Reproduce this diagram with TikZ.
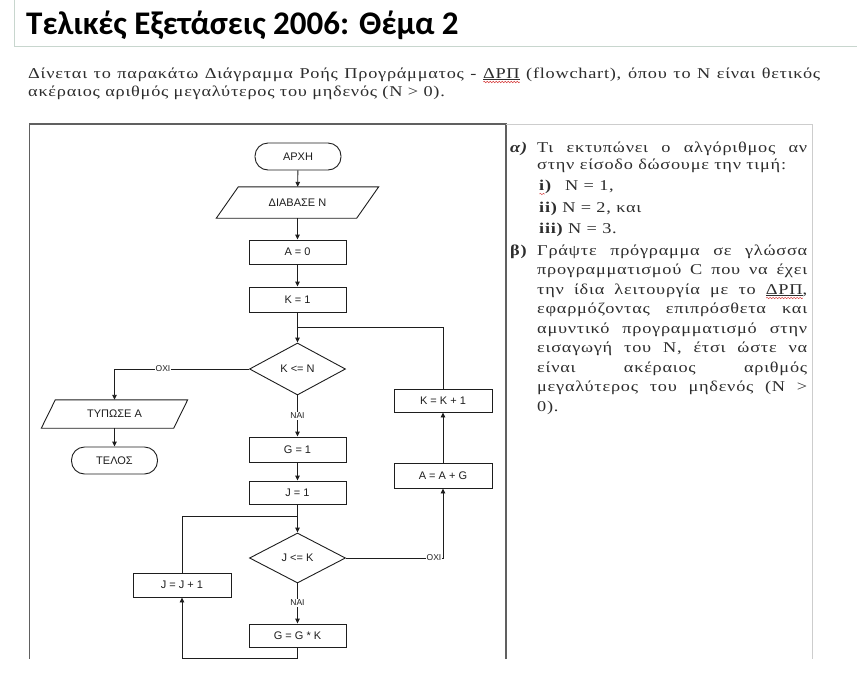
\documentclass[tikz,border=0pt]{standalone}
\usepackage{fontspec}
\usetikzlibrary{arrows.meta,shapes.geometric,decorations.pathmorphing}
\setmainfont{Liberation Serif}
\newfontfamily\titlefont{Carlito}
\newfontfamily\chartfont{Liberation Sans}
\newfontfamily\bodyfont[FakeStretch=1.22,LetterSpace=5]{Liberation Serif}
\definecolor{framedark}{RGB}{96,96,96}
\definecolor{framelight}{RGB}{205,205,205}
\definecolor{titleline}{RGB}{200,214,206}
\definecolor{ink}{RGB}{30,30,30}
\definecolor{textgray}{RGB}{45,45,45}
\definecolor{squig}{RGB}{215,60,60}
\newsavebox\wavebox
\newcommand\redwave[1]{\sbox\wavebox{#1}\rlap{\raisebox{-4pt}[0pt][0pt]{\tikz[x=1pt,y=1pt,baseline=0pt]\draw[squig, line width=0.5pt, decorate, decoration={snake,amplitude=0.7pt,segment length=3pt}] (0,0) -- (\the\wd\wavebox,0);}}#1}
\begin{document}
\begin{tikzpicture}[x=1pt,y=-1pt,
  chart/.style={font=\chartfont\fontsize{11}{13}\selectfont, text=ink},
  box/.style={chart, draw=ink, line width=0.9pt, rectangle, minimum width=97pt, minimum height=24pt, inner sep=0pt},
  term/.style={box, rounded corners=13pt, minimum width=86pt, minimum height=27pt},
  iobody/.style={chart, rectangle, inner sep=0pt},
  ioline/.style={draw=ink, line width=0.9pt, line join=miter},
  decision/.style={chart, draw=ink, line width=0.9pt, diamond, aspect=1.85, inner sep=0pt, minimum width=96pt, minimum height=52pt},
  flow/.style={draw=ink, line width=0.9pt},
  arr/.style={flow, -{Triangle[length=5pt,width=4.5pt]}},
  lbl/.style={fill=white, inner sep=1pt, font=\chartfont\fontsize{8.5}{10}\selectfont, text=ink},
  body/.style={anchor=base west, inner sep=0pt, font=\bodyfont\fontsize{15}{18}\selectfont, text=textgray},
]
\useasboundingbox (0,0) rectangle (857,673);
\fill[white] (0,0) rectangle (857,673);

% title
\draw[titleline, line width=1pt] (14,0) -- (14,46) -- (857,46);
\node[anchor=base west, inner sep=0pt, font=\titlefont\bfseries\fontsize{33}{38}\selectfont] (title) at (26,34) {Τελικές Εξετάσεις 2006: Θέμα 2};

% intro
\node[body] (p1) at (28,78) {\makebox[792pt][s]{Δίνεται το παρακάτω Διάγραμμα Ροής Προγράμματος - \underline{\redwave{ΔΡΠ}} (flowchart), όπου το N είναι θετικός}};
\node[body] (p2) at (28,96) {ακέραιος αριθμός μεγαλύτερος του μηδενός (N > 0).};

% frames
\draw[framedark, line width=1.3pt] (506,659) -- (506,124) -- (29.5,124) -- (29.5,659);
\draw[framelight, line width=1pt] (506,124) -- (812,124) -- (812,659);

% flowchart nodes
\node[term] (start) at (298,156.5) {ΑΡΧΗ};
\node[iobody, minimum width=140pt, minimum height=31pt] (read) at (297.5,202.5) {ΔΙΑΒΑΣΕ Ν};
\draw[ioline] ([xshift=-11pt]read.south west) -- ([xshift=11pt]read.north west) -- ([xshift=11pt]read.north east) -- ([xshift=-11pt]read.south east) -- cycle;
\node[box] (a0) at (297.5,252) {A = 0};
\node[box, minimum height=25pt] (k1) at (297.5,299.5) {K = 1};
\coordinate (j1) at (297.5,327);
\node[decision] (d1) at (297.5,369) {K <= N};
\coordinate (c1) at (114.5,369);
\node[iobody, minimum width=132pt, minimum height=28pt] (print) at (114.5,414) {ΤΥΠΩΣΕ Α};
\draw[ioline] ([xshift=-7pt]print.south west) -- ([xshift=7pt]print.north west) -- ([xshift=7pt]print.north east) -- ([xshift=-7pt]print.south east) -- cycle;
\node[term] (end) at (114.5,460.5) {ΤΕΛΟΣ};
\node[box, minimum height=25pt] (g1) at (297.5,449.5) {G = 1};
\node[box, minimum height=23pt] (jj1) at (297.5,492.5) {J = 1};
\coordinate (j2) at (297.5,516);
\node[decision, minimum height=50pt] (d2) at (297.5,558) {J <= K};
\node[box, minimum height=23pt] (ggk) at (297.5,635.5) {G = G * K};
\coordinate (b1) at (297.5,658);
\coordinate (b2) at (182,658);
\node[box, minimum width=98pt] (jinc) at (182,585) {J = J + 1};
\node[box, minimum width=98pt, minimum height=23pt] (kinc) at (443,400.5) {K = K + 1};
\node[box, minimum width=98pt, minimum height=25pt] (aag) at (443,475.5) {A = A + G};
\coordinate (r2) at (443,558);

% connectors
\draw[arr] (start) -- (read);
\draw[arr] (read) -- (a0);
\draw[arr] (a0) -- (k1);
\draw[arr] (k1) -- (d1);
\draw[flow] (kinc.north) |- (j1);
\draw[arr] (d1.west) -- (c1) -- (print.north);
\draw[arr] (print) -- (end);
\draw[arr] (d1) -- (g1);
\draw[arr] (g1) -- (jj1);
\draw[arr] (jj1) -- (d2);
\draw[flow] (jinc.north) |- (j2);
\draw[arr] (d2) -- (ggk);
\draw[arr] (ggk.south) -- (b1) -- (b2) -- (jinc.south);
\draw[arr] (d2.east) -- (r2) -- (aag.south);
\draw[arr] (aag) -- (kinc);

\node[lbl] (no1) at (163,369) {ΟΧΙ};
\node[lbl] (yes1) at (297.5,416) {ΝΑΙ};
\node[lbl] (yes2) at (297.5,603) {ΝΑΙ};
\node[lbl] (no2) at (434,558) {ΟΧΙ};

% right text
\node[body] (alab) at (510,152) {\bfseries\itshape α)};
\node[body] (a1) at (537,152) {\makebox[270pt][s]{Τι εκτυπώνει ο αλγόριθμος αν}};
\node[body] (a2) at (537,169) {στην είσοδο δώσουμε την τιμή:};
\node[body] (i1) at (539,190) {{\bfseries\redwave{i})}\hspace{14pt}N = 1,};
\node[body] (ii1) at (539,212) {{\bfseries ii)} N = 2, και};
\node[body] (iii1) at (539,233) {{\bfseries iii)} N = 3.};
\node[body] (blab) at (510,255) {\bfseries β)};
\node[body] (b01) at (537,255) {\makebox[270pt][s]{Γράψτε πρόγραμμα σε γλώσσα}};
\node[body] (b02) at (537,274.5) {\makebox[270pt][s]{προγραμματισμού C που να έχει}};
\node[body] (b03) at (537,294) {\makebox[270pt][s]{την ίδια λειτουργία με το \underline{\redwave{ΔΡΠ}},}};
\node[body] (b04) at (537,313.5) {\makebox[270pt][s]{εφαρμόζοντας επιπρόσθετα και}};
\node[body] (b05) at (537,333) {\makebox[270pt][s]{αμυντικό προγραμματισμό στην}};
\node[body] (b06) at (537,352.5) {\makebox[270pt][s]{εισαγωγή του N, έτσι ώστε να}};
\node[body] (b07) at (537,372) {\makebox[270pt][s]{είναι ακέραιος αριθμός}};
\node[body] (b08) at (537,391.5) {\makebox[270pt][s]{μεγαλύτερος του μηδενός (N >}};
\node[body] (b09) at (537,411) {0).};
\end{tikzpicture}
\end{document}
